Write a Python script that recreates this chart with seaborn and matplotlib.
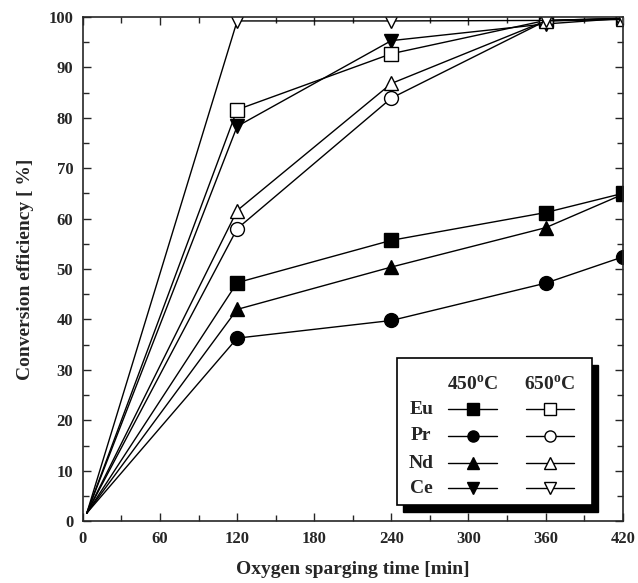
import numpy as np
import pandas as pd
import seaborn as sns
import matplotlib
matplotlib.use("Agg")
import matplotlib.pyplot as plt
from matplotlib.ticker import MultipleLocator
from matplotlib.patches import Rectangle
from matplotlib.lines import Line2D

sns.set_style("ticks")
plt.rcParams['font.family'] = ['Liberation Serif', 'DejaVu Serif']
plt.rcParams['font.weight'] = 'bold'
plt.rcParams['mathtext.fontset'] = 'custom'
plt.rcParams['mathtext.rm'] = 'Liberation Serif:bold'
plt.rcParams['mathtext.bf'] = 'Liberation Serif:bold'

time = [3, 120, 240, 360, 420]
eu_450 = [1.6, 47.3, 55.7, 61.2, 65.0]
pr_450 = [1.6, 36.3, 39.8, 47.2, 52.4]
nd_450 = [1.6, 42.0, 50.4, 58.2, 64.8]
ce_450 = [1.6, 78.3, 95.3, 98.6, 99.7]
eu_650 = [1.6, 81.6, 92.7, 99.3, 99.7]
pr_650 = [1.6, 58.0, 83.9, 99.2, 99.7]
nd_650 = [1.6, 61.6, 86.8, 99.2, 99.5]
ce_650 = [1.6, 99.2, 99.2, 99.3, 99.7]

elements = ["Eu", "Pr", "Nd", "Ce"]
markers = {"Eu": "s", "Pr": "o", "Nd": "^", "Ce": "v"}
series = [
    ("Eu", "450", eu_450), ("Pr", "450", pr_450), ("Nd", "450", nd_450), ("Ce", "450", ce_450),
    ("Eu", "650", eu_650), ("Pr", "650", pr_650), ("Nd", "650", nd_650), ("Ce", "650", ce_650),
]

fig = plt.figure(figsize=(6.38, 5.83), dpi=100)
ax = fig.add_axes([0.130, 0.106, 0.846, 0.865])

for el, temp, vals in series:
    df = pd.DataFrame({"t": time, "v": vals})
    face = "black" if temp == "450" else "white"
    sns.lineplot(data=df, x="t", y="v", ax=ax, color="black", lw=1.0,
                 marker=markers[el], markersize=10, markerfacecolor=face,
                 markeredgecolor="black", markeredgewidth=1.0,
                 markevery=list(range(1, len(time))))

ax.set_xlim(0, 420)
ax.set_ylim(0, 100)
ax.xaxis.set_major_locator(MultipleLocator(60))
ax.xaxis.set_minor_locator(MultipleLocator(30))
ax.yaxis.set_major_locator(MultipleLocator(10))
ax.yaxis.set_minor_locator(MultipleLocator(5))
ax.tick_params(which="both", direction="in", top=True, right=True, width=1.0)
ax.tick_params(which="major", length=6, labelsize=12, pad=7)
ax.tick_params(which="minor", length=4)
for lab in ax.get_xticklabels() + ax.get_yticklabels():
    lab.set_fontweight("bold")
for s in ax.spines.values():
    s.set_linewidth(1.2)
ax.set_xlabel("Oxygen sparging time [min]", fontsize=14, fontweight="bold", labelpad=10)
ax.set_ylabel("Conversion efficiency [ %]", fontsize=14, fontweight="bold", labelpad=10)

# custom legend box with shadow
bx0, bx1, by0, by1 = 0.581, 0.943, 0.032, 0.323
dx, dy = 0.012, -0.014
ax.add_patch(Rectangle((bx0 + dx, by0 + dy), bx1 - bx0, by1 - by0, transform=ax.transAxes,
                       facecolor="black", edgecolor="black", zorder=10))
ax.add_patch(Rectangle((bx0, by0), bx1 - bx0, by1 - by0, transform=ax.transAxes,
                       facecolor="white", edgecolor="black", lw=1.2, zorder=11))
cx450, cx650 = 0.722, 0.865
ax.text(cx450, 0.27, "450$^{\\rm o}$C", transform=ax.transAxes, ha="center", va="center",
        fontsize=14, fontweight="bold", zorder=12)
ax.text(cx650, 0.27, "650$^{\\rm o}$C", transform=ax.transAxes, ha="center", va="center",
        fontsize=14, fontweight="bold", zorder=12)
rows = [0.222, 0.169, 0.115, 0.065]
for el, ry in zip(elements, rows):
    ax.text(0.627, ry, el, transform=ax.transAxes, ha="center", va="center",
            fontsize=14, fontweight="bold", zorder=12)
    for cx, face in ((cx450, "black"), (cx650, "white")):
        ax.add_line(Line2D([cx - 0.045, cx + 0.045], [ry, ry], transform=ax.transAxes,
                           color="black", lw=1.0, zorder=12))
        ax.add_line(Line2D([cx], [ry], transform=ax.transAxes, marker=markers[el],
                           markersize=8, markerfacecolor=face, markeredgecolor="black",
                           color="black", zorder=13))

fig.savefig("out.png", dpi=100)
